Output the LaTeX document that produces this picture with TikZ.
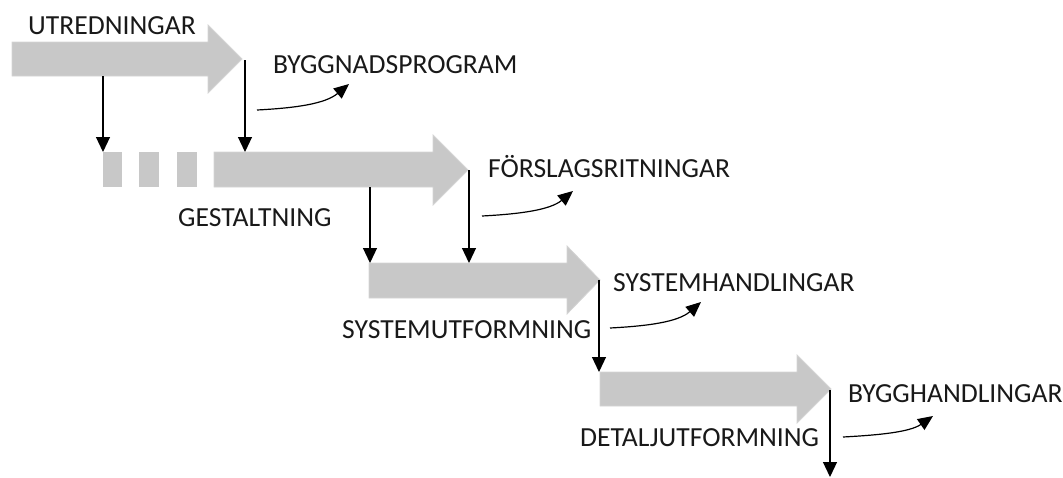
\documentclass[tikz,border=0pt]{standalone}
\usepackage{fontspec}
\setmainfont{Carlito}
\usetikzlibrary{arrows.meta}
\definecolor{bar}{RGB}{200,200,200}
\definecolor{barline}{RGB}{212,212,212}
\tikzset{
  bigarrow/.style={fill=bar, draw=barline, line width=0.8pt},
  lbl/.style={anchor=base west, inner sep=0pt, font=\fontsize{27.6}{32}\selectfont, text=black!90},
  down/.style={line width=1.2pt, -{Triangle[width=14pt,length=15pt]}},
  curv/.style={line width=1.2pt, -{Triangle[width=13pt,length=15pt]}}
}
\begin{document}
\begin{tikzpicture}[x=1pt,y=-1pt]
\useasboundingbox (0,0) rectangle (1063,477);
% arrow 1
\draw[bigarrow] (12,42) -- (208,42) -- (208,25) -- (242,59) -- (208,93) -- (208,76) -- (12,76) -- cycle;
\coordinate (t1) at (245,60);
\coordinate (b1) at (103,76);
% arrow 2 with dashed start
\fill[bar] (103,152) rectangle (122,187);
\fill[bar] (139,152) rectangle (159,187);
\fill[bar] (177,152) rectangle (197,187);
\draw[bigarrow] (214,152) -- (433,152) -- (433,135) -- (468,170) -- (433,205) -- (433,187) -- (214,187) -- cycle;
\coordinate (s2a) at (103,152);
\coordinate (s2b) at (245,152);
\coordinate (t2) at (469,170);
\coordinate (b2) at (370,187);
% arrow 3
\draw[bigarrow] (369,263) -- (567,263) -- (567,246) -- (600,280) -- (567,314) -- (567,298) -- (369,298) -- cycle;
\coordinate (s3a) at (370,263);
\coordinate (s3b) at (469,263);
\coordinate (t3) at (599,280);
% arrow 4
\draw[bigarrow] (600,372) -- (797,372) -- (797,355) -- (831,389) -- (797,423) -- (797,406) -- (600,406) -- cycle;
\coordinate (s4) at (599,372);
\coordinate (t4) at (830,390);
\coordinate (e4) at (830,477);
% down connectors
\draw[down] (b1) -- (s2a);
\draw[down] (t1) -- (s2b);
\draw[down] (b2) -- (s3a);
\draw[down] (t2) -- (s3b);
\draw[down] (t3) -- (s4);
\draw[down] (t4) -- (e4);
% labels
\node[lbl] (utr) at (28,34) {UTREDNINGAR};
\node[lbl] (byp) at (273,73) {BYGGNADSPROGRAM};
\node[lbl] (ges) at (178,226) {GESTALTNING};
\node[lbl] (for) at (488,177) {FÖRSLAGSRITNINGAR};
\node[lbl] (syu) at (342,338) {SYSTEMUTFORMNING};
\node[lbl] (syh) at (613,291) {SYSTEMHANDLINGAR};
\node[lbl] (det) at (580,446) {DETALJUTFORMNING};
\node[lbl] (byh) at (848,402) {BYGGHANDLINGAR};
% curved connectors
\coordinate (c1a) at (257,110); \coordinate (c1b) at (349,84);
\coordinate (c2a) at (482,216); \coordinate (c2b) at (573,191);
\coordinate (c3a) at (610,328); \coordinate (c3b) at (701,302);
\coordinate (c4a) at (843,437); \coordinate (c4b) at (933,416);
\draw[curv] (c1a) .. controls (295,108) and (325,104) .. (c1b);
\draw[curv] (c2a) .. controls (520,214) and (550,210) .. (c2b);
\draw[curv] (c3a) .. controls (648,326) and (678,322) .. (c3b);
\draw[curv] (c4a) .. controls (880,435) and (910,432) .. (c4b);
\end{tikzpicture}
\end{document}
